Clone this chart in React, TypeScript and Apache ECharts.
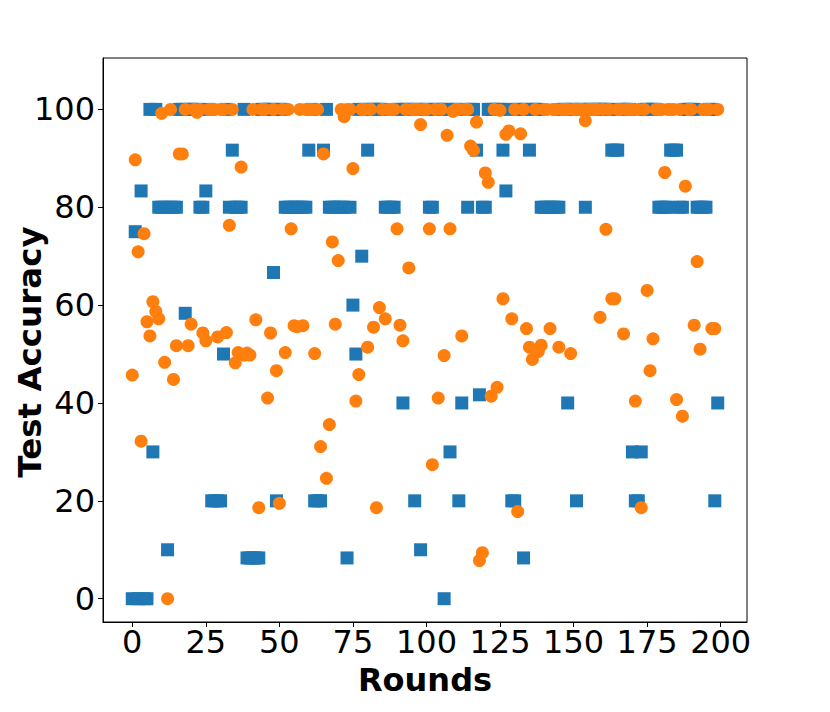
import React, { useEffect, useRef } from "react";
import * as echarts from "echarts";

// Test accuracy per round (blue squares)
const blueAcc: number[] = [
  0, 75, 0, 83.33, 0, 0, 100, 30, 100, 80,
  80, 80, 10, 80, 80, 80, 100, 100, 58.33, 100,
  100, 100, 100, 80, 80, 83.33, 100, 20, 20, 20,
  20, 50, 100, 80, 91.67, 80, 80, 80, 100, 8.33,
  8.33, 8.33, 8.33, 8.33, 100, 100, 100, 100, 66.67, 20,
  100, 100, 80, 80, 80, 80, 80, 80, 80, 80,
  91.67, 100, 20, 20, 20, 91.67, 100, 80, 80, 80,
  80, 80, 80, 8.33, 80, 60, 50, 100, 70, 100,
  91.67, 100, 100, 100, 100, 100, 80, 80, 80, 80,
  100, 100, 40, 100, 100, 100, 20, 100, 10, 100,
  100, 80, 80, 100, 100, 100, 0, 100, 30, 100,
  100, 20, 40, 100, 80, 100, 100, 91.67, 41.67, 80,
  80, 100, 100, 100, 100, 100, 91.67, 83.33, 100, 20,
  20, 100, 100, 8.33, 100, 91.67, 100, 100, 100, 80,
  80, 80, 80, 80, 80, 80, 100, 100, 40, 100,
  100, 20, 100, 100, 80, 100, 100, 100, 100, 100,
  100, 100, 100, 91.67, 91.67, 91.67, 100, 100, 100, 100,
  30, 20, 20, 30, 100, 100, 100, 100, 100, 80,
  80, 80, 80, 91.67, 91.67, 91.67, 80, 80, 100, 100,
  100, 100, 80, 80, 80, 80, 100, 100, 20, 40,
];

// Test accuracy per round (orange circles)
const orangeAcc: number[] = [
  45.7, 89.7, 70.9, 32.2, 74.6, 56.6, 53.7, 60.7, 58.7, 57.2,
  99.2, 48.3, 0, 100, 44.8, 51.7, 90.9, 90.9, 100, 51.7,
  56.1, 100, 99.4, 100, 54.3, 52.7, 100, 100, 100, 53.5,
  100, 100, 54.4, 76.3, 100, 48.2, 50.3, 88.2, 49.8, 50.2,
  49.8, 100, 57, 18.6, 100, 100, 41, 54.3, 100, 46.6,
  19.5, 100, 50.3, 100, 75.6, 55.8, 55.6, 100, 55.8, 100,
  100, 100, 50.1, 100, 31.1, 90.9, 24.6, 35.6, 72.9, 56.1,
  69.1, 100, 98.5, 100, 100, 87.9, 40.4, 45.8, 100, 100,
  51.4, 100, 55.5, 18.6, 59.5, 100, 57.2, 100, 100, 100,
  75.6, 55.9, 52.7, 100, 67.6, 100, 100, 100, 96.9, 100,
  100, 75.6, 27.4, 100, 41, 100, 49.7, 94.7, 75.6, 99.6,
  100, 100, 53.7, 100, 100, 92.5, 91.6, 97.4, 7.8, 9.4,
  87, 85.1, 41.4, 100, 43.2, 99.8, 61.3, 94.9, 95.6, 57.2,
  100, 17.8, 95, 100, 55.2, 51.4, 48.9, 100, 50.5, 51.8,
  100, 100, 55.2, 100, 100, 51.4, 100, 100, 100, 50.1,
  100, 100, 100, 100, 97.7, 100, 100, 100, 100, 57.5,
  100, 75.5, 100, 61.3, 61.3, 100, 100, 54.1, 100, 100,
  100, 40.4, 100, 18.6, 100, 63, 46.6, 53.1, 100, 100,
  100, 87.1, 100, 100, 100, 40.7, 100, 37.3, 84.3, 100,
  100, 55.9, 68.9, 51, 100, 100, 100, 55.2, 55.2, 100,
];

const xTicks: number[] = [0, 25, 50, 75, 100, 125, 150, 175, 200];
const yTicks: number[] = [0, 20, 40, 60, 80, 100];

const FONT = "DejaVu Sans";

export default function App() {
  const ref = useRef<HTMLDivElement>(null);

  useEffect(() => {
    if (!ref.current) return;
    const chart = echarts.init(ref.current, undefined, { renderer: "svg" });
    const toPts = (arr: number[]) => arr.map((v, i) => [i, v]);
    chart.setOption({
      animation: false,
      backgroundColor: "#ffffff",
      grid: {
        left: 103,
        right: 83,
        top: 58,
        bottom: 90,
        show: true,
        borderColor: "#000",
        borderWidth: 1,
        containLabel: false,
      },
      xAxis: {
        type: "value",
        min: -9.95,
        max: 208.95,
        axisLine: { show: true, onZero: false, lineStyle: { color: "#000", width: 1 } },
        axisTick: {
          show: true,
          length: 5,
          customValues: xTicks,
          lineStyle: { color: "#000", width: 1 },
        },
        axisLabel: {
          customValues: xTicks,
          fontSize: 32,
          lineHeight: 26,
          fontFamily: FONT,
          color: "#000",
          margin: 7,
        },
        splitLine: { show: false },
      },
      yAxis: {
        type: "value",
        min: -4.76,
        max: 110.5,
        axisLine: { show: true, onZero: false, lineStyle: { color: "#000", width: 1 } },
        axisTick: {
          show: true,
          length: 5,
          customValues: yTicks,
          lineStyle: { color: "#000", width: 1 },
        },
        axisLabel: {
          customValues: yTicks,
          fontSize: 32,
          fontFamily: FONT,
          color: "#000",
          margin: 8,
        },
        splitLine: { show: false },
      },
      series: [
        {
          type: "scatter",
          symbol: "rect",
          symbolSize: 13,
          itemStyle: { color: "#1f77b4", opacity: 1 },
          data: toPts(blueAcc),
          z: 2,
        },
        {
          type: "scatter",
          symbol: "circle",
          symbolSize: 13,
          itemStyle: { color: "#ff7f0e", opacity: 1 },
          data: toPts(orangeAcc),
          z: 3,
        },
      ],
      graphic: [
        {
          type: "text",
          x: 425,
          y: 680,
          style: {
            text: "Rounds",
            fontSize: 32,
            lineHeight: 24,
            fontWeight: "bold",
            fontFamily: FONT,
            fill: "#000",
            align: "center",
            verticalAlign: "middle",
          },
        },
        {
          type: "text",
          x: 30,
          y: 352,
          rotation: Math.PI / 2,
          style: {
            text: "Test Accuracy",
            fontSize: 32.5,
            fontWeight: "bold",
            fontFamily: FONT,
            fill: "#000",
            align: "center",
            verticalAlign: "middle",
          },
        },
      ],
    });
    return () => chart.dispose();
  }, []);

  return (
    <div
      ref={ref}
      style={{ position: "fixed", left: 0, top: 0, width: 830, height: 712 }}
    />
  );
}
